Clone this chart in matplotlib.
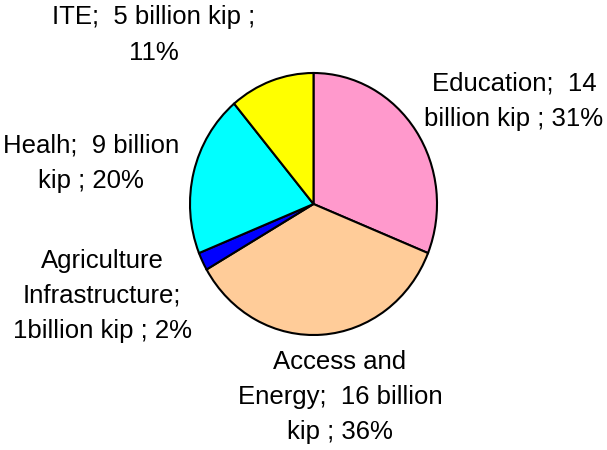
import matplotlib
matplotlib.use("Agg")
import matplotlib.pyplot as plt

categories = ["Education", "Access and Energy", "Agriculture Infrastructure", "Healh", "ITE"]
values = [14, 16, 1, 9, 5]  # billion kip
percents = [31, 36, 2, 20, 11]
labels = [
    "Education;  14\nbillion kip ; 31%",
    "Access and\nEnergy;  16 billion\nkip ; 36%",
    "Agriculture\nInfrastructure;\n1billion kip ; 2%",
    "Healh;  9 billion\nkip ; 20%",
    "ITE;  5 billion kip ;\n11%",
]
colors = ["#FF99CC", "#FFCC99", "#0000FF", "#00FFFF", "#FFFF00"]

W, H = 607, 450
fig = plt.figure(figsize=(W / 100, H / 100), dpi=100)
fig.patch.set_facecolor("white")

# pie axes (pixel box of the ellipse)
left, right, top, bottom = 190, 437, 73, 335
ax = fig.add_axes([left / W, 1 - bottom / H, (right - left) / W, (bottom - top) / H])
ax.pie(values, colors=colors, startangle=90, counterclock=False, radius=1,
       wedgeprops=dict(edgecolor="black", linewidth=1.5))
ax.set_aspect("auto")
ax.set_xlim(-1.0, 1.0)
ax.set_ylim(-1.0, 1.0)
ax.axis("off")

# label centers in pixels
label_pos = [(514, 101), (340, 397), (102, 296), (91, 163), (154, 35)]
for lab, (x, y) in zip(labels, label_pos):
    fig.text(x / W, 1 - y / H, lab, ha="center", va="center", fontsize=18.5,
             family="Liberation Sans", linespacing=1.6, color="black")

fig.savefig("out.png", dpi=100, facecolor="white")
